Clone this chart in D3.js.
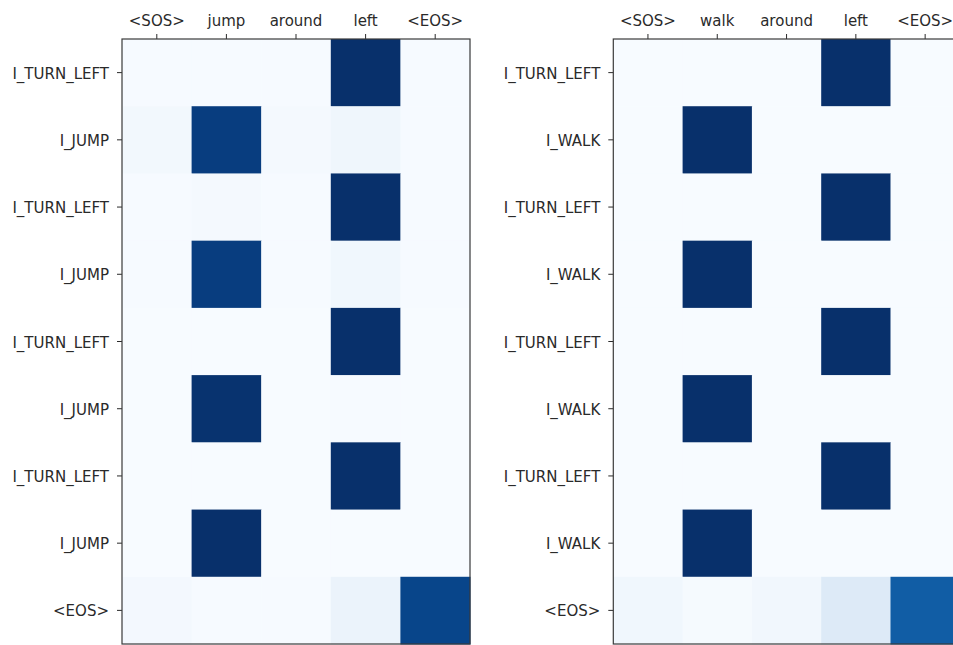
<!DOCTYPE html>
<html>
<head>
<meta charset="utf-8">
<script src="https://cdn.jsdelivr.net/npm/d3@7"></script>
<style>
	body { margin: 0; background: #fff; }
	svg { display: block; }
	.axis text { font-family: "DejaVu Sans", sans-serif; font-size: 15px; fill: #2a2a2a; }
	.axis line { stroke: #2a2a2a; }
</style>
</head>
<body>
<div id="chart"></div>
<script>
// input tokens (columns) and output tokens (rows)
const jumpInputs = ["<SOS>", "jump", "around", "left", "<EOS>"];
const jumpOutputs = ["I_TURN_LEFT", "I_JUMP", "I_TURN_LEFT", "I_JUMP", "I_TURN_LEFT", "I_JUMP", "I_TURN_LEFT", "I_JUMP", "<EOS>"];
const walkInputs = ["<SOS>", "walk", "around", "left", "<EOS>"];
const walkOutputs = ["I_TURN_LEFT", "I_WALK", "I_TURN_LEFT", "I_WALK", "I_TURN_LEFT", "I_WALK", "I_TURN_LEFT", "I_WALK", "<EOS>"];

// attention weights, one row per output token
const jumpAttention = [
	[0.005, 0.005, 0.005, 1.00, 0.005],
	[0.025, 0.95, 0.015, 0.04, 0.005],
	[0.005, 0.015, 0.005, 1.00, 0.005],
	[0.005, 0.95, 0.005, 0.035, 0.005],
	[0.0, 0.0, 0.0, 1.00, 0.0],
	[0.0, 0.99, 0.0, 0.005, 0.0],
	[0.0, 0.0, 0.0, 1.00, 0.0],
	[0.0, 1.00, 0.0, 0.0, 0.0],
	[0.02, 0.005, 0.005, 0.06, 0.92]
];
const walkAttention = [
	[0.0, 0.0, 0.0, 1.00, 0.0],
	[0.0, 1.00, 0.0, 0.0, 0.0],
	[0.0, 0.0, 0.0, 1.00, 0.0],
	[0.0, 1.00, 0.0, 0.0, 0.0],
	[0.0, 0.0, 0.0, 1.00, 0.0],
	[0.0, 1.00, 0.0, 0.0, 0.0],
	[0.0, 0.0, 0.0, 1.00, 0.0],
	[0.0, 1.00, 0.0, 0.0, 0.0],
	[0.035, 0.01, 0.03, 0.13, 0.83]
];

// matplotlib "Blues" stops
const bluesStops = ["#f7fbff", "#deebf7", "#c6dbef", "#9ecae1", "#6baed6", "#4292c6", "#2171b5", "#08519c", "#08306b"];

const width = 953, height = 645;

const svg = d3.select("#chart")
	.append("svg")
	.attr("width", width)
	.attr("height", height);

class heatmap {
	constructor({ svg, left, top, w, h, cols, rows, values }) {
		this.g = svg.append("g").attr("transform", `translate(${left}, ${top})`);
		this.w = w;
		this.h = h;

		const idx = d3.range(bluesStops.length).map(i => i / (bluesStops.length - 1));
		this.color = d3.scaleLinear().domain(idx).range(bluesStops).clamp(true);

		this.x = d3.scaleBand().domain(d3.range(cols.length)).range([0, w]);
		this.y = d3.scaleBand().domain(d3.range(rows.length)).range([0, h]);

		const cells = [];
		values.forEach((row, r) => row.forEach((v, c) => cells.push({ r, c, v })));

		this.g.selectAll(".cell")
			.data(cells)
			.enter()
			.append("rect")
			.attr("class", "cell")
			.attr("x", d => this.x(d.c))
			.attr("y", d => this.y(d.r))
			.attr("width", this.x.bandwidth() + 0.5)
			.attr("height", this.y.bandwidth() + 0.5)
			.attr("fill", d => this.color(d.v));

		const xAxis = d3.axisTop(this.x).tickSize(5).tickPadding(8).tickFormat(i => cols[i]);
		const yAxis = d3.axisLeft(this.y).tickSize(5).tickPadding(8).tickFormat(i => rows[i]);

		this.g.append("g").attr("class", "axis").call(xAxis)
			.call(a => a.select(".domain").remove());
		this.g.append("g").attr("class", "axis").call(yAxis)
			.call(a => a.select(".domain").remove())
			.selectAll(".tick text").attr("dy", "0.4em");

		// frame
		this.g.append("rect")
			.attr("width", w)
			.attr("height", h)
			.attr("fill", "none")
			.attr("stroke", "#3a3a3a")
			.attr("stroke-width", 1.2);
	}
}

new heatmap({ svg, left: 122, top: 39, w: 348, h: 605, cols: jumpInputs, rows: jumpOutputs, values: jumpAttention });
new heatmap({ svg, left: 613.3, top: 39, w: 346.5, h: 605, cols: walkInputs, rows: walkOutputs, values: walkAttention });
</script>
</body>
</html>
